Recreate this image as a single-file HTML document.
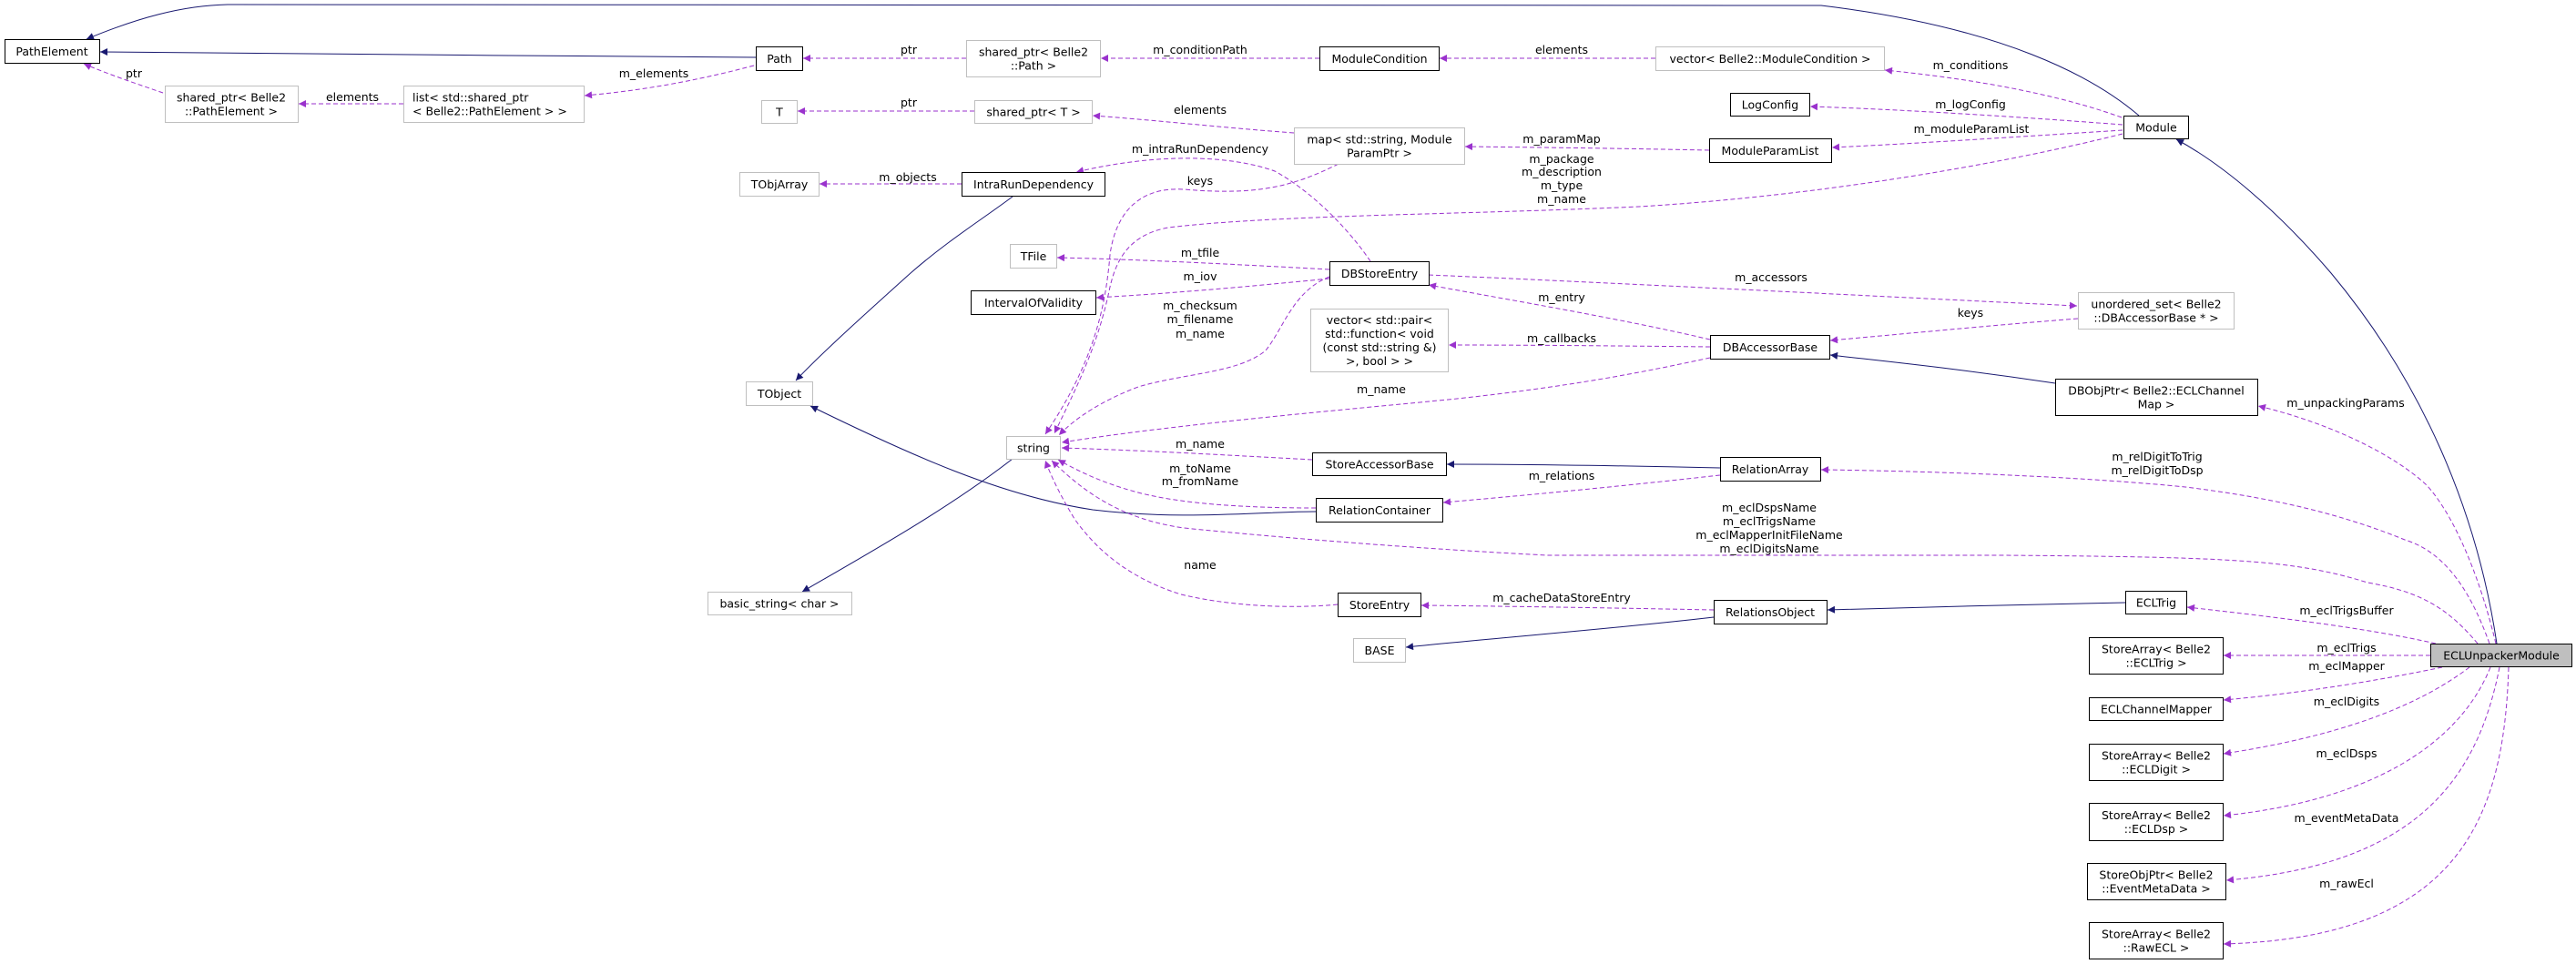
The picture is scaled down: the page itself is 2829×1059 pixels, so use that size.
<!DOCTYPE html>
<html><head><meta charset="utf-8"><style>
html,body{margin:0;padding:0;background:#fff;}
svg{display:block;}
text{font-family:"DejaVu Sans","Liberation Sans",sans-serif;font-size:12.5px;fill:#000;text-anchor:middle;}
.u{fill:none;stroke:#9a32cd;stroke-width:1;stroke-dasharray:5,3;}
.i{fill:none;stroke:#191970;stroke-width:1;}
.nb{fill:#fff;stroke:#000;stroke-width:1;}
.ng{fill:#fff;stroke:#bfbfbf;stroke-width:1;}
</style></head><body>
<svg width="2829" height="1059" viewBox="0 0 2829 1059" xmlns="http://www.w3.org/2000/svg">
<defs>
<marker id="ai" viewBox="0 0 10 10" refX="10" refY="5" markerWidth="11" markerHeight="8" markerUnits="userSpaceOnUse" orient="auto"><path d="M0,0 L10,5 L0,10 z" fill="#191970"/></marker>
<marker id="au" viewBox="0 0 10 10" refX="10" refY="5" markerWidth="11" markerHeight="8" markerUnits="userSpaceOnUse" orient="auto"><path d="M0,0 L10,5 L0,10 z" fill="#9a32cd"/></marker>
</defs>

<!-- inheritance edges -->
<path class="i" marker-end="url(#ai)" d="M2349,127 C2300,85 2200,30 2000,6 L250,5 C200,6 150,20 95,43"/>
<path class="i" marker-end="url(#ai)" d="M830,63 C600,62 300,58 110,57"/>
<path class="i" marker-end="url(#ai)" d="M1112,216 C1080,240 1040,265 1000,300 C950,345 900,390 874,418"/>
<path class="i" marker-end="url(#ai)" d="M1445,562 C1380,562 1300,572 1200,560 C1100,545 1000,500 890,446"/>
<path class="i" marker-end="url(#ai)" d="M1112,504 C1040,560 950,610 881,650"/>
<path class="i" marker-end="url(#ai)" d="M2257,421 C2150,405 2080,398 2010,390"/>
<path class="i" marker-end="url(#ai)" d="M1889,514 C1800,512 1700,510 1589,510"/>
<path class="i" marker-end="url(#ai)" d="M1882,678 C1780,690 1650,700 1544,711"/>
<path class="i" marker-end="url(#ai)" d="M2334,662 C2230,664 2110,667 2007,670"/>
<path class="i" marker-end="url(#ai)" d="M2742,707 C2720,560 2660,420 2560,300 C2500,230 2440,180 2390,153"/>

<!-- usage edges -->
<path class="u" marker-end="url(#au)" d="M179,102 C150,92 120,82 92,70"/>
<path class="u" marker-end="url(#au)" d="M443,114 L328,114"/>
<path class="u" marker-end="url(#au)" d="M828,72 C760,90 700,100 642,105"/>
<path class="u" marker-end="url(#au)" d="M1061,64 L882,64"/>
<path class="u" marker-end="url(#au)" d="M1070,122 L876,122"/>
<path class="u" marker-end="url(#au)" d="M1449,64 L1209,64"/>
<path class="u" marker-end="url(#au)" d="M1818,64 L1581,64"/>
<path class="u" marker-end="url(#au)" d="M2330,129 C2250,100 2150,85 2070,77"/>
<path class="u" marker-end="url(#au)" d="M2331,137 C2200,127 2080,120 1988,117"/>
<path class="u" marker-end="url(#au)" d="M2331,143 C2220,150 2100,158 2012,162"/>
<path class="u" marker-end="url(#au)" d="M1877,165 C1780,163 1700,162 1609,161"/>
<path class="u" marker-end="url(#au)" d="M1421,146 C1340,140 1270,132 1200,127"/>
<path class="u" marker-end="url(#au)" d="M2331,147 C2200,180 2000,215 1800,227 C1600,236 1400,236 1283,250 C1240,258 1225,285 1218,320 C1205,380 1185,420 1158,476"/>
<path class="u" marker-end="url(#au)" d="M1470,180 C1420,205 1380,215 1300,208 C1250,205 1225,235 1219,280 C1214,340 1200,400 1148,477"/>
<path class="u" marker-end="url(#au)" d="M1505,287 C1480,250 1440,210 1400,188 C1350,170 1270,168 1182,189"/>
<path class="u" marker-end="url(#au)" d="M1460,304 C1420,320 1410,360 1390,385 C1360,410 1300,410 1250,425 C1210,440 1180,460 1163,478"/>
<path class="u" marker-end="url(#au)" d="M1460,296 C1350,290 1250,285 1161,283"/>
<path class="u" marker-end="url(#au)" d="M1460,306 C1370,315 1290,322 1204,327"/>
<path class="u" marker-end="url(#au)" d="M1056,202 L900,202"/>
<path class="u" marker-end="url(#au)" d="M1878,373 C1780,350 1660,330 1569,313"/>
<path class="u" marker-end="url(#au)" d="M1878,381 C1780,380 1680,379 1591,379"/>
<path class="u" marker-end="url(#au)" d="M1878,393 C1800,410 1720,425 1600,438 C1480,450 1300,465 1166,486"/>
<path class="u" marker-end="url(#au)" d="M1569,302 C1800,312 2050,325 2281,336"/>
<path class="u" marker-end="url(#au)" d="M2282,350 C2180,358 2100,366 2010,374"/>
<path class="u" marker-end="url(#au)" d="M1441,505 C1350,500 1260,495 1166,492"/>
<path class="u" marker-end="url(#au)" d="M1445,558 C1380,558 1300,555 1246,540 C1210,530 1185,518 1162,505"/>
<path class="u" marker-end="url(#au)" d="M1889,522 C1800,532 1700,542 1585,552"/>
<path class="u" marker-end="url(#au)" d="M1469,664 C1430,668 1360,668 1297,653 C1240,635 1205,605 1180,570 C1165,545 1155,525 1148,506"/>
<path class="u" marker-end="url(#au)" d="M1882,670 C1780,668 1660,666 1561,665"/>
<path class="u" marker-end="url(#au)" d="M2721,707 C2690,670 2660,650 2600,640 C2520,615 2450,612 2200,610 L1700,610 C1600,605 1450,595 1300,580 C1230,570 1190,540 1155,506"/>
<path class="u" marker-end="url(#au)" d="M2734,707 C2710,640 2680,605 2641,593 C2560,560 2480,545 2400,535 C2300,525 2150,518 2000,516"/>
<path class="u" marker-end="url(#au)" d="M2741,707 C2720,620 2690,560 2665,533 C2630,500 2560,465 2480,446"/>
<path class="u" marker-end="url(#au)" d="M2675,707 C2600,690 2500,678 2402,667"/>
<path class="u" marker-end="url(#au)" d="M2669,720 L2442,720"/>
<path class="u" marker-end="url(#au)" d="M2682,733 C2600,750 2520,762 2442,769"/>
<path class="u" marker-end="url(#au)" d="M2712,733 C2650,780 2560,810 2442,828"/>
<path class="u" marker-end="url(#au)" d="M2735,733 C2700,820 2600,880 2442,896"/>
<path class="u" marker-end="url(#au)" d="M2745,733 C2720,860 2650,950 2445,967"/>
<path class="u" marker-end="url(#au)" d="M2755,733 C2750,900 2700,1030 2442,1037"/>

<!-- edge labels -->
<text x="147" y="85">ptr</text>
<text x="387" y="111">elements</text>
<text x="718" y="85">m_elements</text>
<text x="998" y="59">ptr</text>
<text x="1318" y="59">m_conditionPath</text>
<text x="1715" y="59">elements</text>
<text x="2164" y="76">m_conditions</text>
<text x="2164" y="119">m_logConfig</text>
<text x="2165" y="146">m_moduleParamList</text>
<text x="1715" y="157">m_paramMap</text>
<text x="1715" y="179">m_package</text>
<text x="1715" y="193">m_description</text>
<text x="1715" y="208">m_type</text>
<text x="1715" y="223">m_name</text>
<text x="998" y="117">ptr</text>
<text x="1318" y="125">elements</text>
<text x="1318" y="168">m_intraRunDependency</text>
<text x="1318" y="203">keys</text>
<text x="997" y="199">m_objects</text>
<text x="1318" y="282">m_tfile</text>
<text x="1318" y="308">m_iov</text>
<text x="1318" y="340">m_checksum</text>
<text x="1318" y="355">m_filename</text>
<text x="1318" y="371">m_name</text>
<text x="1945" y="309">m_accessors</text>
<text x="1715" y="331">m_entry</text>
<text x="2164" y="348">keys</text>
<text x="1715" y="376">m_callbacks</text>
<text x="1517" y="432">m_name</text>
<text x="1318" y="492">m_name</text>
<text x="1318" y="519">m_toName</text>
<text x="1318" y="533">m_fromName</text>
<text x="1715" y="527">m_relations</text>
<text x="1318" y="625">name</text>
<text x="1715" y="661">m_cacheDataStoreEntry</text>
<text x="1943" y="562">m_eclDspsName</text>
<text x="1943" y="577">m_eclTrigsName</text>
<text x="1943" y="592">m_eclMapperInitFileName</text>
<text x="1943" y="607">m_eclDigitsName</text>
<text x="2369" y="506">m_relDigitToTrig</text>
<text x="2369" y="521">m_relDigitToDsp</text>
<text x="2576" y="447">m_unpackingParams</text>
<text x="2577" y="675">m_eclTrigsBuffer</text>
<text x="2577" y="716">m_eclTrigs</text>
<text x="2577" y="736">m_eclMapper</text>
<text x="2577" y="775">m_eclDigits</text>
<text x="2577" y="832">m_eclDsps</text>
<text x="2577" y="903">m_eventMetaData</text>
<text x="2577" y="975">m_rawEcl</text>

<!-- nodes -->
<rect class="nb" x="5.5" y="43.5" width="104" height="26"/><text x="57" y="61">PathElement</text>
<rect class="ng" x="181.5" y="94.5" width="146" height="40"/><text x="254" y="111.5">shared_ptr&lt; Belle2</text><text x="254" y="126.5">::PathElement &gt;</text>
<rect class="ng" x="443.5" y="94.5" width="198" height="40"/><text x="453" y="111.5" style="text-anchor:start">list&lt; std::shared_ptr</text><text x="453" y="126.5" style="text-anchor:start">&lt; Belle2::PathElement &gt; &gt;</text>
<rect class="nb" x="830.5" y="51.5" width="51" height="26"/><text x="856" y="69">Path</text>
<rect class="ng" x="1061.5" y="44.5" width="147" height="40"/><text x="1135" y="61.5">shared_ptr&lt; Belle2</text><text x="1135" y="76.5">::Path &gt;</text>
<rect class="ng" x="836.5" y="110.5" width="39" height="25"/><text x="856" y="127.5">T</text>
<rect class="ng" x="1070.5" y="110.5" width="129" height="25"/><text x="1135" y="127.5">shared_ptr&lt; T &gt;</text>
<rect class="ng" x="812.5" y="189.5" width="87" height="26"/><text x="856" y="207">TObjArray</text>
<rect class="nb" x="1056.5" y="189.5" width="157" height="26"/><text x="1135" y="207">IntraRunDependency</text>
<rect class="ng" x="1109.5" y="268.5" width="51" height="26"/><text x="1135" y="286">TFile</text>
<rect class="nb" x="1066.5" y="319.5" width="137" height="26"/><text x="1135" y="337">IntervalOfValidity</text>
<rect class="ng" x="819.5" y="419.5" width="73" height="26"/><text x="856" y="437">TObject</text>
<rect class="ng" x="1105.5" y="479.5" width="59" height="25"/><text x="1135" y="496.5">string</text>
<rect class="ng" x="777.5" y="650.5" width="158" height="25"/><text x="856" y="667.5">basic_string&lt; char &gt;</text>
<rect class="nb" x="1449.5" y="51.5" width="131" height="26"/><text x="1515" y="69">ModuleCondition</text>
<rect class="ng" x="1818.5" y="51.5" width="251" height="26"/><text x="1944" y="69">vector&lt; Belle2::ModuleCondition &gt;</text>
<rect class="nb" x="1900.5" y="102.5" width="87" height="25"/><text x="1944" y="119.5">LogConfig</text>
<rect class="ng" x="1421.5" y="140.5" width="187" height="40"/><text x="1515" y="157.5">map&lt; std::string, Module</text><text x="1515" y="172.5">ParamPtr &gt;</text>
<rect class="nb" x="1877.5" y="152.5" width="134" height="26"/><text x="1944" y="170">ModuleParamList</text>
<rect class="nb" x="1460.5" y="287.5" width="109" height="26"/><text x="1515" y="305">DBStoreEntry</text>
<rect class="ng" x="1439.5" y="339.5" width="151" height="69"/><text x="1515" y="356">vector&lt; std::pair&lt;</text><text x="1515" y="371">std::function&lt; void</text><text x="1515" y="386">(const std::string &amp;)</text><text x="1515" y="401">&gt;, bool &gt; &gt;</text>
<rect class="nb" x="1878.5" y="368.5" width="131" height="26"/><text x="1944" y="386">DBAccessorBase</text>
<rect class="nb" x="1441.5" y="497.5" width="147" height="25"/><text x="1515" y="514.5">StoreAccessorBase</text>
<rect class="nb" x="1889.5" y="502.5" width="110" height="26"/><text x="1944" y="520">RelationArray</text>
<rect class="nb" x="1445.5" y="547.5" width="139" height="26"/><text x="1515" y="565">RelationContainer</text>
<rect class="nb" x="1469.5" y="651.5" width="91" height="26"/><text x="1515" y="669">StoreEntry</text>
<rect class="ng" x="1486.5" y="701.5" width="57" height="26"/><text x="1515" y="719">BASE</text>
<rect class="nb" x="1882.5" y="659.5" width="124" height="26"/><text x="1944" y="677">RelationsObject</text>
<rect class="nb" x="2332.5" y="127.5" width="71" height="25"/><text x="2368" y="144.5">Module</text>
<rect class="ng" x="2282.5" y="321.5" width="171" height="40"/><text x="2368" y="338.5">unordered_set&lt; Belle2</text><text x="2368" y="353.5">::DBAccessorBase * &gt;</text>
<rect class="nb" x="2257.5" y="416.5" width="222" height="40"/><text x="2368" y="433.5">DBObjPtr&lt; Belle2::ECLChannel</text><text x="2368" y="448.5">Map &gt;</text>
<rect class="nb" x="2334.5" y="649.5" width="67" height="25"/><text x="2368" y="666.5">ECLTrig</text>
<rect class="nb" x="2294.5" y="700.5" width="147" height="40"/><text x="2368" y="717.5">StoreArray&lt; Belle2</text><text x="2368" y="732.5">::ECLTrig &gt;</text>
<rect class="nb" x="2294.5" y="766.5" width="147" height="25"/><text x="2368" y="783.5">ECLChannelMapper</text>
<rect class="nb" x="2294.5" y="817.5" width="147" height="40"/><text x="2368" y="834.5">StoreArray&lt; Belle2</text><text x="2368" y="849.5">::ECLDigit &gt;</text>
<rect class="nb" x="2294.5" y="882.5" width="147" height="41"/><text x="2368" y="900">StoreArray&lt; Belle2</text><text x="2368" y="915">::ECLDsp &gt;</text>
<rect class="nb" x="2292.5" y="948.5" width="152" height="40"/><text x="2368" y="965.5">StoreObjPtr&lt; Belle2</text><text x="2368" y="980.5">::EventMetaData &gt;</text>
<rect class="nb" x="2294.5" y="1013.5" width="147" height="40"/><text x="2368" y="1030.5">StoreArray&lt; Belle2</text><text x="2368" y="1045.5">::RawECL &gt;</text>
<rect x="2669.5" y="707.5" width="155" height="25" fill="#bfbfbf" stroke="#000"/><text x="2747" y="724.5">ECLUnpackerModule</text>
</svg>
</body></html>
